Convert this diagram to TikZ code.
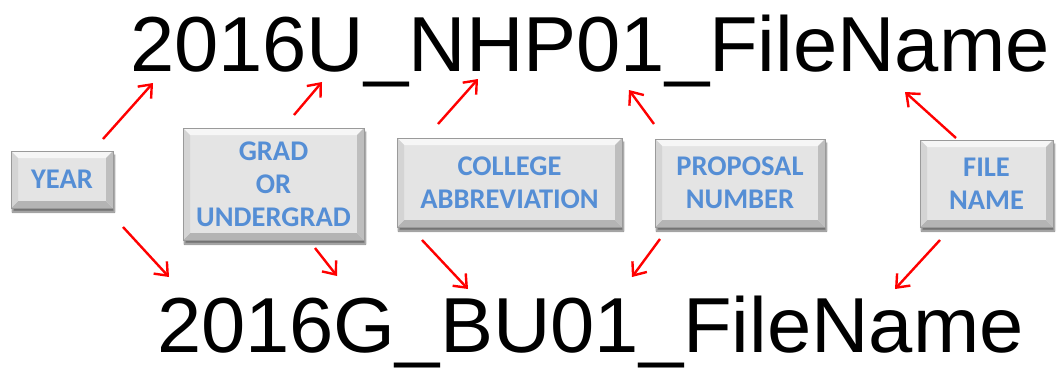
\documentclass[tikz,border=0pt]{standalone}
\usepackage{fontspec}
\usetikzlibrary{arrows.meta,shadows.blur}
\newfontfamily\arialf[FakeStretch=1.02]{Liberation Sans}
\newfontfamily\calibrif{Carlito}
\definecolor{facegray}{HTML}{E4E4E4}
\definecolor{topband}{HTML}{F6F6F6}
\definecolor{leftband}{HTML}{D4D4D4}
\definecolor{rightband}{HTML}{BEBEBE}
\definecolor{botband}{HTML}{B4B4B4}
\definecolor{edgegray}{HTML}{9A9A9A}
\definecolor{labelblue}{HTML}{558ED5}
\definecolor{arrowred}{HTML}{FF0000}
\tikzset{
  bevelbox/.style={rectangle, fill=facegray, draw=edgegray, line width=0.6pt,
    inner sep=0pt, align=center, text=labelblue,
    font=\calibrif\bfseries\fontsize{28.5}{33}\selectfont,
    blur shadow={shadow xshift=1.5pt, shadow yshift=-4pt, shadow blur steps=6, shadow opacity=55},
    path picture={
      \def\bd{7pt}
      \fill[topband] (path picture bounding box.north west) -- (path picture bounding box.north east)
        -- ([xshift=-\bd,yshift=-\bd]path picture bounding box.north east)
        -- ([xshift=\bd,yshift=-\bd]path picture bounding box.north west) -- cycle;
      \fill[botband] (path picture bounding box.south west) -- (path picture bounding box.south east)
        -- ([xshift=-\bd,yshift=\bd]path picture bounding box.south east)
        -- ([xshift=\bd,yshift=\bd]path picture bounding box.south west) -- cycle;
      \fill[leftband] (path picture bounding box.north west) -- (path picture bounding box.south west)
        -- ([xshift=\bd,yshift=\bd]path picture bounding box.south west)
        -- ([xshift=\bd,yshift=-\bd]path picture bounding box.north west) -- cycle;
      \fill[rightband] (path picture bounding box.north east) -- (path picture bounding box.south east)
        -- ([xshift=-\bd,yshift=\bd]path picture bounding box.south east)
        -- ([xshift=-\bd,yshift=-\bd]path picture bounding box.north east) -- cycle;
    }},
  codetext/.style={inner sep=0pt, outer sep=0pt, anchor=base west,
    font=\arialf\fontsize{78}{90}\selectfont, text=black},
  redarrow/.style={draw=arrowred, line width=2.4pt,
    -{Straight Barb[length=11pt,width=18pt,line width=2.4pt]}}
}
\begin{document}
\begin{tikzpicture}[x=1pt,y=-1pt]
\useasboundingbox (0,0) rectangle (1057,367);
% file name examples
\node[codetext] (top) at (130,71) {2016U\_NHP01\_FileName};
\node[codetext] (bottom) at (157,352) {2016G\_BU01\_FileName};
% boxes
\node[bevelbox, minimum width=102pt, minimum height=57pt] (year) at (62,179.5) {YEAR};
\node[bevelbox, minimum width=181pt, minimum height=112pt] (grad) at (273.5,184) {GRAD\\OR\\UNDERGRAD};
\node[bevelbox, minimum width=225pt, minimum height=89pt] (college) at (509.5,182.5) {COLLEGE\\ABBREVIATION};
\node[bevelbox, minimum width=170pt, minimum height=88pt] (proposal) at (740,183) {PROPOSAL\\NUMBER};
\node[bevelbox, minimum width=133pt, minimum height=87pt] (file) at (986.5,183.5) {FILE\\NAME};
% arrow endpoints
\coordinate (a1s) at (103,139); \coordinate (a1e) at (153,83);
\coordinate (a2s) at (294,115); \coordinate (a2e) at (322,82);
\coordinate (a3s) at (438,124); \coordinate (a3e) at (478,79);
\coordinate (a4s) at (654,124); \coordinate (a4e) at (629,90);
\coordinate (a5s) at (956,138); \coordinate (a5e) at (905,92);
\coordinate (b1s) at (123,227); \coordinate (b1e) at (169,277);
\coordinate (b2s) at (315,248); \coordinate (b2e) at (337,276);
\coordinate (b3s) at (422,240); \coordinate (b3e) at (468,289);
\coordinate (b4s) at (660,239); \coordinate (b4e) at (632,277);
\coordinate (b5s) at (940,240); \coordinate (b5e) at (895,289);
\foreach \a in {a1,a2,a3,a4,a5,b1,b2,b3,b4,b5}
  \draw[redarrow] (\a s) -- (\a e);
\end{tikzpicture}
\end{document}
